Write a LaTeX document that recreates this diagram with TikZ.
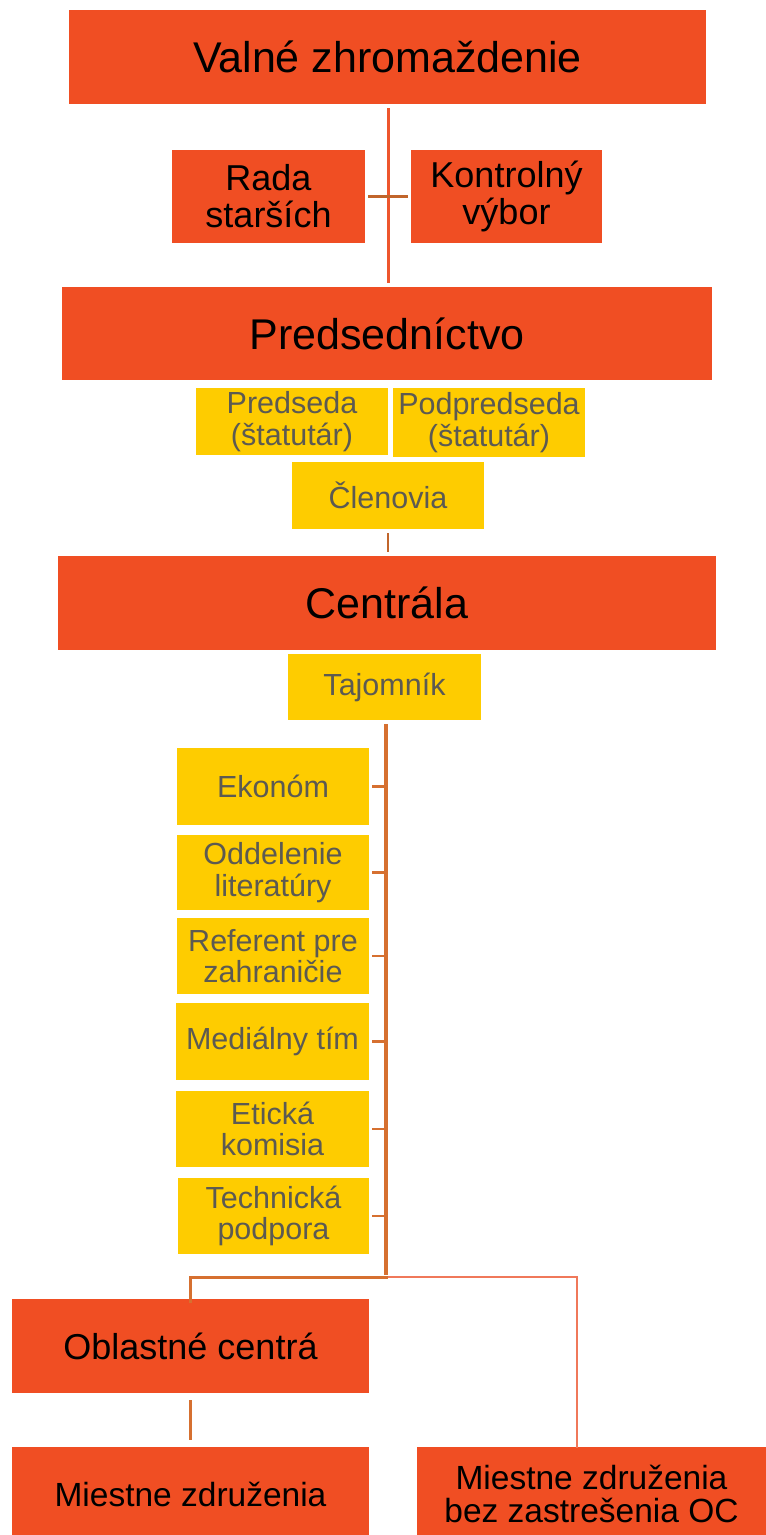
\documentclass[tikz,border=0pt]{standalone}
\usepackage{fontspec}
\setmainfont{Liberation Sans}
\definecolor{boxred}{RGB}{240,78,35}
\definecolor{boxyel}{RGB}{254,204,0}
\definecolor{txtgray}{RGB}{92,90,82}
\definecolor{lnred}{RGB}{238,86,45}
\definecolor{lnbrown}{RGB}{214,112,48}
\definecolor{lnlight}{RGB}{240,120,90}
\begin{document}
\begin{tikzpicture}[x=1pt,y=-1pt,
  redbox/.style={fill=boxred, draw=none, inner sep=0pt, align=center, text=black},
  yelbox/.style={fill=boxyel, draw=none, inner sep=0pt, align=center, text=txtgray,
     font=\fontsize{30.5}{31.5}\selectfont},
  bigtxt/.style={font=\fontsize{43}{45}\selectfont},
  midtxt/.style={font=\fontsize{36}{37}\selectfont},
  octxt/.style={font=\fontsize{36}{36}\selectfont},
  smtxt/.style={font=\fontsize{33.5}{33}\selectfont},
  thinline/.style={draw=lnred, line width=3pt},
  crossline/.style={draw=lnbrown!90!black, line width=3pt},
  thickline/.style={draw=lnbrown, line width=4pt},
  tickline/.style={draw=lnbrown, line width=2.5pt},
  lightline/.style={draw=lnlight, line width=2pt}
]
\useasboundingbox (0,0) rectangle (766,1535);

% top level
\node[redbox, bigtxt, minimum width=637pt, minimum height=94pt] (vz) at (387.5,57) {Valné zhromaždenie};
\node[redbox, midtxt, minimum width=193pt, minimum height=93pt] (rs) at (268.5,196.5) {Rada\\starších};
\node[redbox, midtxt, minimum width=191pt, minimum height=93pt] (kv) at (506.5,196.5) {Kontrolný\\výbor};
\node[redbox, bigtxt, minimum width=650pt, minimum height=93pt] (pr) at (387,333.5) {Predsedníctvo};

\node[yelbox, minimum width=192pt, minimum height=67pt] (pd) at (292,421.5) {Predseda\\(štatutár)};
\node[yelbox, minimum width=192pt, minimum height=69pt] (pp) at (489,422.5) {Podpredseda\\(štatutár)};
\node[yelbox, minimum width=192pt, minimum height=67pt] (cl) at (388,495.5) {Členovia};

\node[redbox, bigtxt, minimum width=658pt, minimum height=94pt] (ce) at (387,603) {Centrála};
\node[yelbox, minimum width=193pt, minimum height=66pt] (tj) at (384.5,687) {Tajomník};

\node[yelbox, minimum width=192pt, minimum height=77pt] (ek) at (273,786.5) {Ekonóm};
\node[yelbox, minimum width=192pt, minimum height=75pt] (ol) at (273,872.5) {Oddelenie\\literatúry};
\node[yelbox, minimum width=192pt, minimum height=76pt] (rz) at (273,956) {Referent pre\\zahraničie};
\node[yelbox, minimum width=193pt, minimum height=77pt] (mt) at (272.5,1041.5) {Mediálny tím};
\node[yelbox, minimum width=193pt, minimum height=76pt] (et) at (272.5,1129) {Etická\\komisia};
\node[yelbox, minimum width=191pt, minimum height=76pt] (tp) at (273.5,1216) {Technická\\podpora};

\node[redbox, octxt, minimum width=357pt, minimum height=94pt] (oc) at (190.5,1346) {Oblastné centrá};
\node[redbox, smtxt, minimum width=357pt, minimum height=94pt] (mz) at (190.5,1494) {Miestne združenia};
\node[redbox, smtxt, minimum width=349pt, minimum height=94pt] (mb) at (591.5,1494) {Miestne združenia\\bez zastrešenia OC};

\coordinate (j) at (386,1277);
\coordinate (r) at (577,1277);

% connectors
\draw[thinline, shorten <=4pt, shorten >=4pt] (vz.south -| 388,0) -- (pr.north -| 388,0);
\draw[crossline, shorten <=3pt, shorten >=3pt] (rs.east) -- (kv.west);
\draw[crossline, line width=2.5pt, shorten <=4pt, shorten >=4pt] (cl.south) -- (cl.south |- ce.north);
\draw[thickline] ([yshift=-4pt]tj.south -| j) -- ([yshift=2pt]j);
\foreach \b in {ek,ol,rz,mt,et,tp}{
  \draw[tickline, shorten <=3pt] (\b.east) -- (\b.east -| j);
}
\draw[lightline] (j) -- (r) -- ([yshift=-1pt]r |- mb.north);
\draw[tickline, line width=3pt] ([xshift=2pt]j) -- (j -| oc) -- ([yshift=-4pt]oc.north);
\draw[tickline, line width=3pt, shorten <=7pt, shorten >=7pt] (oc.south) -- (mz.north);
\end{tikzpicture}
\end{document}
